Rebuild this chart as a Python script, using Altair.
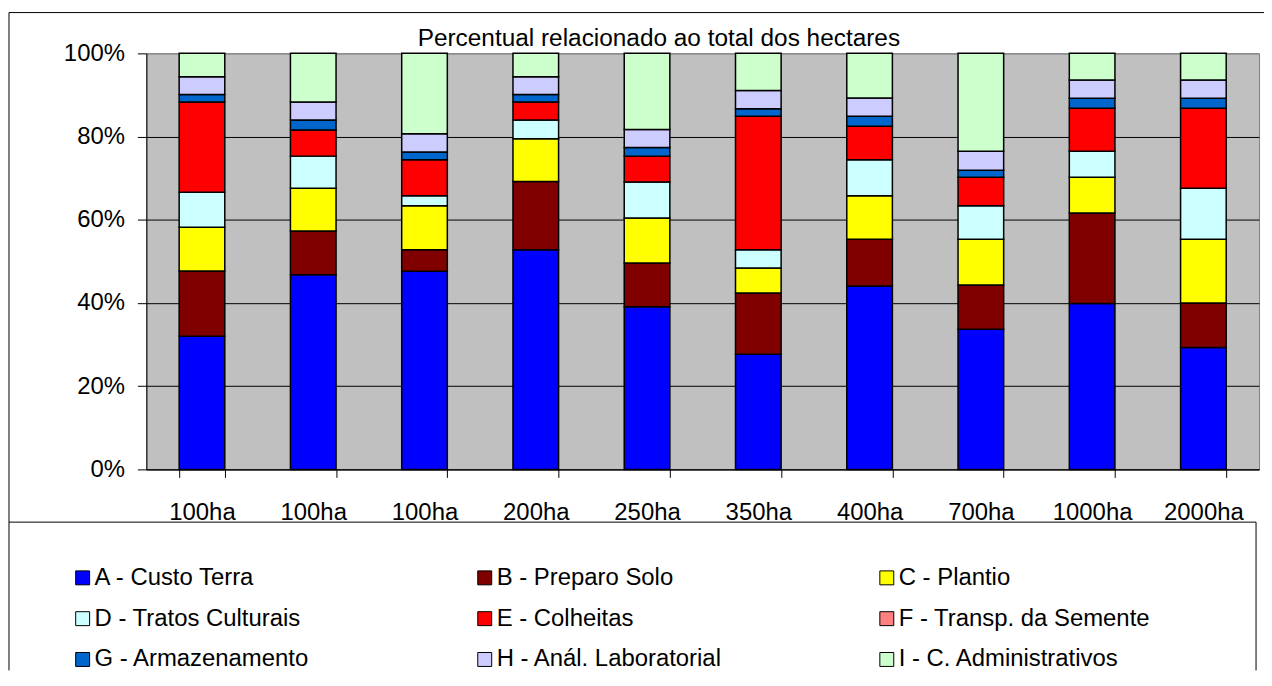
import json
import altair as alt
import pandas as pd

# ---- data (percent of total per farm size) ----
bar_labels = ["100ha", "100ha", "100ha", "200ha", "250ha", "350ha", "400ha", "700ha", "1000ha", "2000ha"]
categories = ["A - Custo Terra", "B - Preparo Solo", "C - Plantio",
              "D - Tratos Culturais", "E - Colheitas", "F - Transp. da Semente",
              "G - Armazenamento", "H - Anál. Laboratorial", "I - C. Administrativos"]
colors = ["#0000FF", "#800000", "#FFFF00", "#CCFFFF", "#FF0000", "#FF8080",
          "#0066CC", "#CCCCFF", "#CCFFCC"]

A = [32.0, 46.8, 47.6, 52.8, 39.1, 27.7, 44.1, 33.7, 39.9, 29.3]
B = [15.7, 10.5, 5.2, 16.4, 10.5, 14.7, 11.2, 10.6, 21.7, 10.7]
C = [10.5, 10.3, 10.6, 10.3, 10.8, 6.0, 10.5, 11.0, 8.6, 15.3]
D = [8.4, 7.7, 2.4, 4.5, 8.7, 4.4, 8.6, 8.1, 6.3, 12.3]
E = [21.7, 6.3, 8.6, 4.3, 6.2, 32.1, 8.1, 6.8, 10.3, 19.2]
F = [0.0, 0.0, 0.0, 0.0, 0.0, 0.0, 0.0, 0.0, 0.0, 0.0]
G = [1.8, 2.4, 1.9, 1.8, 2.1, 1.8, 2.4, 1.7, 2.4, 2.4]
H = [4.3, 4.3, 4.4, 4.3, 4.3, 4.4, 4.4, 4.6, 4.4, 4.4]
I = [5.6, 11.7, 19.3, 5.6, 18.3, 8.9, 10.7, 23.5, 6.4, 6.4]
series = [A, B, C, D, E, F, G, H, I]

title_text = "Percentual relacionado ao total dos hectares"

rows = []
for ci, (cat, vals) in enumerate(zip(categories, series)):
    for bi, v in enumerate(vals):
        rows.append({"key": str(bi), "cat": cat, "ord": ci, "value": v})
df = pd.DataFrame(rows)

W, H = 1118, 418
FONT = "Liberation Sans"
FS = 24

label_expr = json.dumps(bar_labels) + "[toNumber(datum.value)]"

bars = alt.Chart(df).transform_filter("datum.value > 0").mark_bar(
    stroke="black", strokeWidth=1.5
).encode(
    x=alt.X("key:N", sort=[str(i) for i in range(len(bar_labels))],
            scale=alt.Scale(paddingInner=0.59, paddingOuter=0.295),
            axis=alt.Axis(title=None, labelAngle=0, labelExpr=label_expr,
                          tickBand="extent", tickSize=8, tickColor="black",
                          domainColor="black", labelColor="black",
                          labelFontSize=FS, labelFont=FONT, labelPadding=23,
                          grid=False)),
    y=alt.Y("value:Q", stack="normalize",
            scale=alt.Scale(domain=[0, 1]),
            axis=alt.Axis(title=None, format=".0%",
                          values=[0, 0.2, 0.4, 0.6, 0.8, 1.0],
                          tickSize=9, tickColor="black", domainColor="black",
                          labelColor="black", labelFontSize=FS, labelFont=FONT,
                          labelPadding=13, grid=True,
                          gridColor={"condition": {"test": "datum.value === 1", "value": "#808080"},
                                     "value": "black"},
                          gridOpacity=1)),
    color=alt.Color("cat:N", scale=alt.Scale(domain=categories, range=colors),
                    legend=alt.Legend(title=None, orient="none", legendX=-76, legendY=515,
                                      direction="horizontal",
                                      columns=3, symbolType="square", symbolSize=196,
                                      symbolStrokeColor="black", symbolStrokeWidth=1,
                                      symbolOpacity=1,
                                      labelFontSize=FS, labelFont=FONT, labelColor="black",
                                      labelLimit=600, labelOffset=0,
                                      columnPadding=127, rowPadding=17,
                                      gridAlign="all")),
    order=alt.Order("ord:Q"),
)

# chart title, placed above the plot area
title = alt.Chart().mark_text(
    text=title_text, font=FONT, fontSize=24.5, color="black", align="center", baseline="alphabetic"
).encode(x=alt.value(515), y=alt.value(-7))

# frame lines (outer border and legend box)
BOT = 620
frame_style = dict(color="black", strokeWidth=1)
outer_left = alt.Chart().mark_rule(**frame_style).encode(
    x=alt.value(-138), y=alt.value(-41), y2=alt.value(BOT))
outer_top = alt.Chart().mark_rule(**frame_style).encode(
    x=alt.value(-138), x2=alt.value(W + 10), y=alt.value(-41))
legend_top = alt.Chart().mark_rule(**frame_style).encode(
    x=alt.value(-138), x2=alt.value(W - 3), y=alt.value(471))
legend_right = alt.Chart().mark_rule(**frame_style).encode(
    x=alt.value(W - 3), y=alt.value(471), y2=alt.value(BOT))

chart = alt.layer(bars, title, outer_left, outer_top, legend_top, legend_right).properties(
    width=W, height=H,
    autosize=alt.AutoSizeParams(type="none"),
    padding={"left": 139, "top": 44, "right": 5, "bottom": 202},
    background="white",
    view=alt.ViewBackground(fill="#C0C0C0", stroke="#808080", strokeWidth=1),
).configure(
    font=FONT
).configure_view(
    fill="#C0C0C0", stroke="#808080", strokeWidth=1
)

chart.save("out.html", embed_options={"renderer": "svg", "actions": False})
